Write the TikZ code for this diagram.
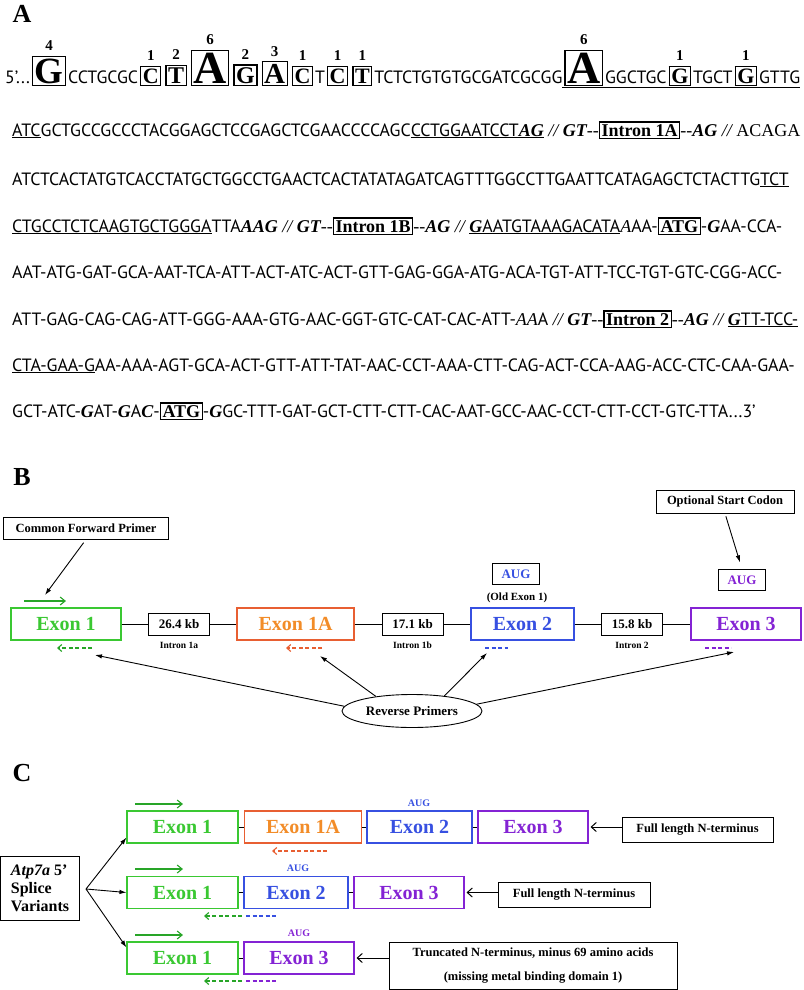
\documentclass[tikz,border=0pt]{standalone}
\usepackage{fontspec}
\setmainfont{Liberation Serif}
\newfontfamily\seqfont{PT Sans}
\usetikzlibrary{arrows.meta,shapes.geometric}

\definecolor{exgreen}{RGB}{58,200,50}
\definecolor{prgreen}{RGB}{40,165,40}
\definecolor{exorange}{RGB}{242,140,40}
\definecolor{exred}{RGB}{232,95,50}
\definecolor{exblue}{RGB}{55,80,225}
\definecolor{expurple}{RGB}{132,35,212}

\setlength{\fboxsep}{1.5pt}
\setlength{\fboxrule}{1.2pt}

\newcommand{\sqf}{\seqfont\fontsize{17.8}{20}\selectfont}
\newcommand{\seqbi}[1]{{\rmfamily\bfseries\itshape\fontsize{18}{20}\selectfont #1}}
\newcommand{\seqit}[1]{{\rmfamily\itshape\fontsize{18}{20}\selectfont #1}}
\newcommand{\seqsl}{{\rmfamily\itshape\fontsize{18}{20}\selectfont\ // }}
\newcommand{\seqdd}{{\rmfamily\fontsize{18}{20}\selectfont -{}-}}
\newcommand{\seqbox}[1]{\fbox{\rmfamily\bfseries\fontsize{18}{19}\selectfont #1}}
\newcommand{\seqbase}[3]{\hspace{2pt}\shortstack{\raisebox{2pt}{\rmfamily\bfseries\fontsize{15}{15}\selectfont #2}\\\fbox{\rmfamily\bfseries\fontsize{#1}{#1}\selectfont #3}}\hspace{2pt}}

\begin{document}
\begin{tikzpicture}[x=1pt,y=-1pt,
  >={Latex[length=7pt,width=4.5pt]},
  lbl/.style={font=\fontsize{26}{26}\selectfont\bfseries},
  seqline/.style={anchor=base west,inner sep=0pt,font=\sqf},
  note/.style={draw,line width=0.9pt,inner sep=2pt,font=\fontsize{12.5}{15}\selectfont\bfseries},
  exon/.style={draw,line width=1.1pt,inner sep=0pt,minimum height=32,font=\fontsize{20}{22}\selectfont\bfseries},
  kb/.style={draw,line width=0.9pt,minimum width=61,minimum height=22,font=\fontsize{13}{15}\selectfont\bfseries},
  intr/.style={font=\fontsize{9.5}{11}\selectfont\bfseries},
  augbox/.style={draw,line width=0.9pt,minimum width=47,minimum height=21,font=\fontsize{13}{15}\selectfont\bfseries},
  augs/.style={font=\fontsize{10}{12}\selectfont\bfseries},
  fwdp/.style={-{Straight Barb[length=5pt,width=8pt]},line width=1.1pt,prgreen},
  revp/.style={-{Straight Barb[length=4pt,width=7pt]},dash pattern=on 4pt off 2.5pt,line width=1.1pt},
  dsh/.style={dash pattern=on 4pt off 2.5pt,line width=1.1pt},
  ptr/.style={->,line width=0.9pt},
  bptr/.style={-{Straight Barb[length=5pt,width=9pt]},line width=1pt},
]
\useasboundingbox (0,0) rectangle (803,990);

% panel A
\node[lbl] (labA) at (22,14) {A};
\node[seqline] (s1) at (5,83) {5’...\seqbase{37}{4}{G}CCTGCGC\seqbase{22}{1}{C}\seqbase{24}{2}{T}\seqbase{46}{6}{A}\seqbase{24}{2}{G}\seqbase{29}{3}{A}\seqbase{22}{1}{C}T\seqbase{22}{1}{C}\seqbase{22}{1}{T}TCTCTGTGTGCGATCGCGG\underline{\seqbase{46}{6}{A}GGCTGC\seqbase{22}{1}{G}TGCT\seqbase{22}{1}{G}GTTG}};
\node[seqline] (s2) at (12,136) {\underline{ATC}GCTGCCGCCCTACGGAGCTCCGAGCTCGAACCCCAGC\underline{CCTGGAATCCT\seqbi{AG}}\seqsl\seqbi{GT}\seqdd\seqbox{Intron 1A}\seqdd\seqbi{AG}\seqsl{\rmfamily\fontsize{18}{20}\selectfont ACAGA}};
\node[seqline] (s3) at (12,185) {ATCTCACTATGTCACCTATGCTGGCCTGAACTCACTATATAGATCAGTTTGGCCTTGAATTCATAGAGCTCTACTTG\underline{TCT}};
\node[seqline] (s4) at (12,232) {\underline{CTGCCTCTCAAGTGCTGGGA}TTA\seqbi{AAG}\seqsl\seqbi{GT}\seqdd\seqbox{Intron 1B}\seqdd\seqbi{AG}\seqsl\underline{\seqbi{G}AATGTAAAGACATA}\seqit{A}AA-\seqbox{ATG}-\seqbi{G}AA-CCA-};
\node[seqline] (s5) at (12,278) {AAT-ATG-GAT-GCA-AAT-TCA-ATT-ACT-ATC-ACT-GTT-GAG-GGA-ATG-ACA-TGT-ATT-TCC-TGT-GTC-CGG-ACC-};
\node[seqline] (s6) at (12,325) {ATT-GAG-CAG-CAG-ATT-GGG-AAA-GTG-AAC-GGT-GTC-CAT-CAC-ATT-\seqit{AA}A\seqsl\seqbi{GT}\seqdd\seqbox{Intron 2}\seqdd\seqbi{AG}\seqsl\underline{\seqbi{G}TT-TCC-}};
\node[seqline] (s7) at (12,371) {\underline{CTA-GAA-G}AA-AAA-AGT-GCA-ACT-GTT-ATT-TAT-AAC-CCT-AAA-CTT-CAG-ACT-CCA-AAG-ACC-CTC-CAA-GAA-};
\node[seqline] (s8) at (12,417) {GCT-ATC-\seqbi{G}AT-\seqbi{G}A\seqbi{C}-\seqbox{ATG}-\seqbi{G}GC-TTT-GAT-GCT-CTT-CTT-CAC-AAT-GCC-AAC-CCT-CTT-CCT-GTC-TTA...3’};

% panel B
\node[lbl] (labB) at (22,477) {B};
\node[note,minimum width=165,minimum height=22] (fwd) at (86,528) {Common Forward Primer};
\node[note,minimum width=138,minimum height=23] (opt) at (725,501.5) {Optional Start Codon};
\node[augbox,text=exblue] (aug2) at (516,574) {AUG};
\node[font=\fontsize{11}{13}\selectfont\bfseries] (old) at (517,598) {(Old Exon 1)};
\node[augbox,text=expurple] (aug3) at (742,580) {AUG};
\node[exon,draw=exgreen,text=exgreen,minimum width=110] (b1) at (66,624) {Exon 1};
\node[kb] (kb1) at (179,624) {26.4 kb};
\node[exon,draw=exred,text=exorange,minimum width=117] (b1a) at (295.5,624) {Exon 1A};
\node[kb] (kb2) at (412.5,624) {17.1 kb};
\node[exon,draw=exblue,text=exblue,minimum width=103] (b2) at (522.5,624) {Exon 2};
\node[kb] (kb3) at (632,624) {15.8 kb};
\node[exon,draw=expurple,text=expurple,minimum width=110] (b3) at (746,624) {Exon 3};
\node[intr] (in1) at (179,645) {Intron 1a};
\node[intr] (in2) at (412.5,645) {Intron 1b};
\node[intr] (in3) at (632,645) {Intron 2};
\node[draw,ellipse,line width=0.9pt,minimum width=140,minimum height=33,font=\fontsize{13}{15}\selectfont\bfseries] (rev) at (412,711) {Reverse Primers};
%
\draw[line width=0.9pt] (b1) -- (kb1) -- (b1a) -- (kb2) -- (b2) -- (kb3) -- (b3);
\coordinate (f0a) at (24,601);
\coordinate (f0b) at (66,601);
\coordinate (r1a) at (92,648);
\coordinate (r1b) at (57,648);
\coordinate (r2a) at (322,648);
\coordinate (r2b) at (286,648);
\coordinate (r3a) at (485,648);
\coordinate (r3b) at (508,648);
\coordinate (r4a) at (705,648);
\coordinate (r4b) at (731,648);
\draw[fwdp] (f0a) -- (f0b);
\draw[revp,prgreen] (r1a) -- (r1b);
\draw[revp,exred] (r2a) -- (r2b);
\draw[dsh,exblue] (r3a) -- (r3b);
\draw[dsh,expurple] (r4a) -- (r4b);
\coordinate (t0) at (45,595);
\coordinate (t1) at (95,655);
\coordinate (t2) at (320,656);
\coordinate (t3) at (487,653);
\coordinate (t4) at (734,652);
\draw[ptr,shorten <=4pt] (fwd.south) -- (t0);
\draw[ptr,shorten <=3pt,shorten >=7pt] (opt.south) -- (aug3.north);
\draw[ptr] (rev.176) -- (t1);
\draw[ptr] (rev.158) -- (t2);
\draw[ptr] (rev.25) -- (t3);
\draw[ptr] (rev.6) -- (t4);

% panel C
\node[lbl] (labC) at (22,773) {C};
\node[note,align=left,minimum width=79,minimum height=64,font=\fontsize{16}{18}\selectfont\bfseries] (spl) at (40,888.5) {\textit{Atp7a} 5’\\Splice\\Variants};
\node[exon,draw=exgreen,text=exgreen,minimum width=111] (c1e1) at (182.5,827) {Exon 1};
\node[exon,draw=exred,text=exorange,minimum width=117] (c1e1a) at (303,827) {Exon 1A};
\node[exon,draw=exblue,text=exblue,minimum width=105] (c1e2) at (419.5,827) {Exon 2};
\node[exon,draw=expurple,text=expurple,minimum width=110] (c1e3) at (533,827) {Exon 3};
\node[exon,draw=exgreen,text=exgreen,minimum width=111] (c2e1) at (182.5,892.5) {Exon 1};
\node[exon,draw=exblue,text=exblue,minimum width=104] (c2e2) at (296,892.5) {Exon 2};
\node[exon,draw=expurple,text=expurple,minimum width=110] (c2e3) at (409,892.5) {Exon 3};
\node[exon,draw=exgreen,text=exgreen,minimum width=111] (c3e1) at (182.5,958) {Exon 1};
\node[exon,draw=expurple,text=expurple,minimum width=110] (c3e3) at (299,958) {Exon 3};
\node[augs,text=exblue] (ac1) at (419,803) {AUG};
\node[augs,text=exblue] (ac2) at (298,868) {AUG};
\node[augs,text=expurple] (ac3) at (299,933) {AUG};
\node[note,minimum width=151,minimum height=25] (fl1) at (697.5,829.5) {Full length N-terminus};
\node[note,minimum width=152,minimum height=25] (fl2) at (574,895) {Full length N-terminus};
\node[note,align=center,minimum width=288,minimum height=47,font=\fontsize{12.5}{24}\selectfont\bfseries] (tr) at (533,965.5) {Truncated N-terminus, minus 69 amino acids\\(missing metal binding domain 1)};
%
\draw[line width=0.9pt] (c1e1) -- (c1e1a) -- (c1e2) -- (c1e3);
\draw[line width=0.9pt] (c2e1) -- (c2e2) -- (c2e3);
\draw[line width=0.9pt] (c3e1) -- (c3e3);
\coordinate (fork) at (86,889);
\draw[ptr] (fork) -- ([yshift=6pt]c1e1.south west);
\draw[ptr] (fork) -- (c2e1.west);
\draw[ptr] (fork) -- ([yshift=-6pt]c3e1.north west);
\coordinate (g1a) at (135,804);
\coordinate (g1b) at (183,804);
\coordinate (g2a) at (135,869);
\coordinate (g2b) at (183,869);
\coordinate (g3a) at (135,935);
\coordinate (g3b) at (183,935);
\draw[fwdp] (g1a) -- (g1b);
\draw[fwdp] (g2a) -- (g2b);
\draw[fwdp] (g3a) -- (g3b);
\coordinate (d1a) at (327,851);
\coordinate (d1b) at (272,851);
\coordinate (d2a) at (242,916);
\coordinate (d2b) at (204,916);
\coordinate (d2c) at (246,916);
\coordinate (d2d) at (278,916);
\coordinate (d3a) at (242,981);
\coordinate (d3b) at (204,981);
\coordinate (d3c) at (246,981);
\coordinate (d3d) at (278,981);
\draw[revp,exred] (d1a) -- (d1b);
\draw[revp,prgreen] (d2a) -- (d2b);
\draw[dsh,exblue] (d2c) -- (d2d);
\draw[revp,prgreen] (d3a) -- (d3b);
\draw[dsh,expurple] (d3c) -- (d3d);
\draw[bptr,shorten >=2pt] (c1e3.east -| fl1.west) -- (c1e3.east);
\draw[bptr,shorten >=2pt] (c2e3.east -| fl2.west) -- (c2e3.east);
\draw[bptr,shorten >=2pt] (c3e3.east -| tr.west) -- (c3e3.east);
\end{tikzpicture}
\end{document}
